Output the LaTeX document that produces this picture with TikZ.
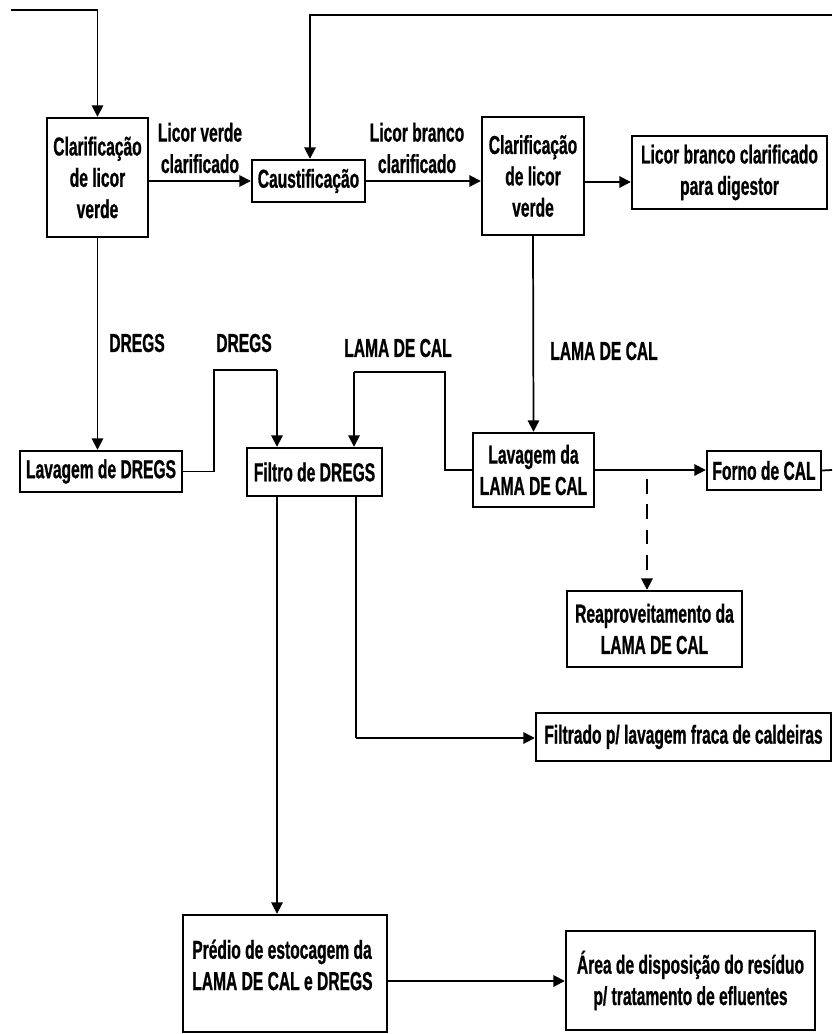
\documentclass[tikz,border=0pt]{standalone}
\usepackage{fontspec}
\setmainfont{Liberation Sans}[FakeStretch=0.6,FakeBold=0.8]
\usetikzlibrary{arrows.meta}
\begin{document}
\begin{tikzpicture}[x=0.75pt,y=-0.75pt,
  font=\bfseries\fontsize{19.5}{23.5}\selectfont,
  box/.style={draw,line width=1.8pt,inner sep=0pt,align=center},
  wh/.style 2 args={minimum width=#1*0.75pt,minimum height=#2*0.75pt},
  con/.style={line width=1.3pt},
  arr/.style={con,-{Triangle[length=8.5pt,width=8.5pt]}},
  lbl/.style={align=center,inner sep=0pt}]
\path[use as bounding box] (0,0) rectangle (832,1034);

% boxes
\node[box,wh={101}{119}] (B1) at (97.5,177.5) {Clarificação\\de licor\\verde};
\node[box,wh={113}{42}] (B2) at (308.5,181) {Caustificação};
\node[box,wh={102}{118}] (B3) at (533,176) {Clarificação\\de licor\\verde};
\node[box,wh={195}{73}] (B4) at (729.5,172.5) {Licor branco clarificado\\para digestor};
\node[box,wh={162}{41}] (B5) at (101,471.5) {Lavagem de DREGS};
\node[box,wh={135}{48}] (B6) at (314.5,472) {Filtro de DREGS};
\node[box,wh={121}{74}] (B7) at (533.5,470) {Lavagem da\\LAMA DE CAL};
\node[box,wh={114}{39}] (B8) at (764,470.5) {Forno de CAL};
\node[box,wh={175}{76}] (B9) at (654.5,629) {Reaproveitamento da\\LAMA DE CAL};
\node[box,wh={295}{48}] (B10) at (683.5,737) {Filtrado p/ lavagem fraca de caldeiras};
\node[box,wh={204}{117}] (B11) at (285,973.5) {};
\node[lbl,anchor=west,align=left] (T11) at (192,965) {Prédio de estocagem da\\LAMA DE CAL e DREGS};
\node[box,wh={249}{99}] (B12) at (690.5,980.5) {Área de disposição do resíduo\\p/ tratamento de efluentes};

% labels
\node[lbl] (L1) at (200,148) {Licor verde\\clarificado};
\node[lbl] (L2) at (417,148) {Licor branco\\clarificado};
\node[lbl] (L3) at (137,343) {DREGS};
\node[lbl] (L4) at (244,343) {DREGS};
\node[lbl] (L5) at (398,348) {LAMA DE CAL};
\node[lbl] (L6) at (604,351) {LAMA DE CAL};

% free ends and routing points
\coordinate (in1) at (11,10);
\coordinate (in2) at (832,15);
\coordinate (out1) at (832,470);
\coordinate (r1) at (0,182);
\coordinate (r2) at (0,981);
\coordinate (d1) at (277,370);
\coordinate (d2) at (354,372);
\coordinate (f1) at (356,738);
\coordinate (g1) at (647,479);

% connectors
\draw[arr] (in1) -| (B1.north);
\draw[arr] (B2.west -| B1.east) -- (B2.west);
\draw[arr] (in2) -| ([xshift=1.5*0.75pt]B2.north);
\draw[arr] (B2.east) -- (B2.east -| B3.west);
\draw[arr] (B3.east |- r1) -- (B4.west |- r1);
\draw[arr] (B3.south) -- (B7.north);
\draw[arr] (B1.south) -- (B1.south |- B5.north);
\draw[con] (B5.east) -- ++(31,0) |- (d1);
\draw[arr] (d1) -- (d1 |- B6.north);
\draw[con] (B7.west) -- ++(-27,0) |- (d2);
\draw[arr] (d2) -- (d2 |- B6.north);
\draw[arr] (B7.east) -- (B7.east -| B8.west);
\draw[con] (B8.east) -- (out1);
\draw[arr,dash pattern=on 11pt off 8pt] (g1) -- (g1 |- B9.north);
\draw[arr] (d1 |- B6.south) -- (d1 |- B11.north);
\draw[con] (f1 |- B6.south) -- (f1);
\draw[arr] (f1) -- (B10.west |- f1);
\draw[arr] (B11.east |- r2) -- (B12.west |- r2);
\end{tikzpicture}
\end{document}
